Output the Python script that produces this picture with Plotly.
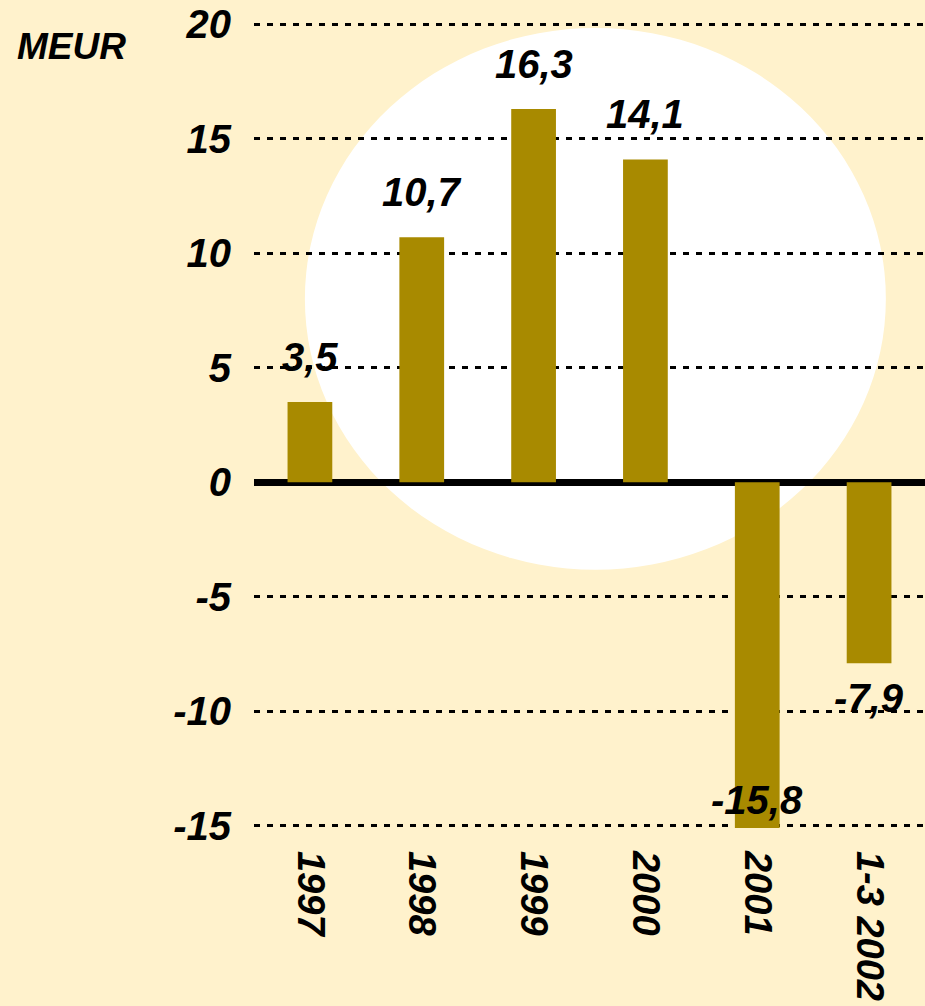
import plotly.graph_objects as go

categories = ["1997", "1998", "1999", "2000", "2001", "1-3 2002"]
values = [3.5, 10.7, 16.3, 14.1, -15.8, -7.9]
labels = ["3,5", "10,7", "16,3", "14,1", "-15,8", "-7,9"]
y_ticks = [-15, -10, -5, 0, 5, 10, 15, 20]

BG = "#FFF2CC"
BAR = "#A88A00"
FONT = "Liberation Sans, Arial, sans-serif"
YMIN, YMAX = -15, 20
PAD = 0.1

fig = go.Figure()
fig.add_trace(go.Bar(x=categories, y=values, marker=dict(color=BAR, line=dict(width=0)),
                     width=0.4, hoverinfo="skip"))

annotations = []
for i, (v, t) in enumerate(zip(values, labels)):
    if v >= 0:
        annotations.append(dict(x=i, y=v, text=t, yanchor="bottom", yshift=21, showarrow=False))
    elif v < YMIN:
        annotations.append(dict(x=i, y=YMIN, text=t, yanchor="bottom", yshift=2, showarrow=False))
    else:
        annotations.append(dict(x=i, y=v, text=t, yanchor="top", yshift=-11, showarrow=False))
for a in annotations:
    a["font"] = dict(family=FONT, size=40, color="black", weight="bold", style="italic")
    a["xref"] = "x"
    a["yref"] = "y"

annotations.append(dict(text="MEUR", xref="paper", yref="paper", x=-0.356, y=0.97,
                        xanchor="left", yanchor="middle", showarrow=False,
                        font=dict(family=FONT, size=37, color="black", weight="bold", style="italic")))

fig.update_layout(
    width=925, height=1006,
    margin=dict(l=254, r=0, t=22, b=178),
    paper_bgcolor=BG, plot_bgcolor=BG,
    showlegend=False,
    annotations=annotations,
    shapes=[dict(type="circle", xref="x", yref="y", x0=-0.045, x1=5.15, y0=-3.82, y1=19.84,
                 fillcolor="white", line=dict(width=0), layer="below")],
    xaxis=dict(type="category", range=[-0.5, len(categories) - 0.5], automargin=False,
               showgrid=False, showline=False, ticks="", tickangle=90,
               tickfont=dict(family=FONT, size=38, color="black", weight="bold", style="italic"),
               ticklabelstandoff=22),
    yaxis=dict(range=[YMIN - PAD, YMAX + PAD], tickvals=y_ticks, ticktext=[str(v) for v in y_ticks],
               automargin=False,
               showgrid=True, gridcolor="black", gridwidth=2.5, griddash="6px,7px",
               zeroline=True, zerolinecolor="black", zerolinewidth=7,
               showline=False, ticks="",
               tickfont=dict(family=FONT, size=40, color="black", weight="bold", style="italic"),
               ticklabelstandoff=22),
)

fig.write_html("out.html", config={"displayModeBar": False},
               post_script="document.body.style.margin='0';")
